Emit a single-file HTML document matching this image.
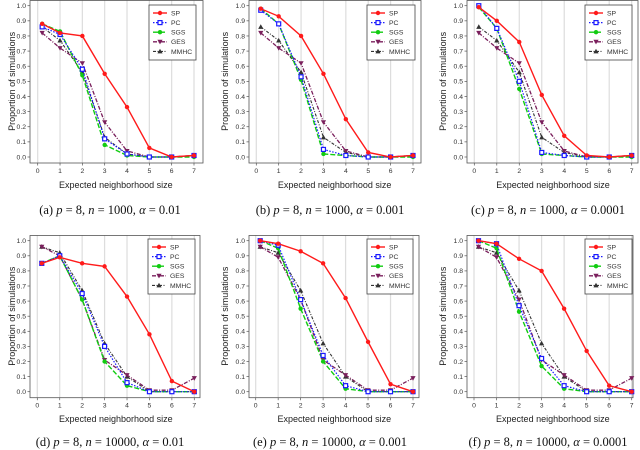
<!DOCTYPE html>
<html><head><meta charset="utf-8"><style>
body{margin:0;background:#fff;}
svg{display:block;font-family:"Liberation Sans",sans-serif;}
.cap{font-family:"Liberation Serif",serif;font-size:12.5px;}
</style></head><body>
<svg id="fig" width="640" height="450" viewBox="0 0 640 450" xmlns="http://www.w3.org/2000/svg"></svg>
<script>
const xVals=[0.2,1,2,3,4,5,6,7];
const xTicks=[0,1,2,3,4,5,6,7];
const yTicks=[0,0.1,0.2,0.3,0.4,0.5,0.6,0.7,0.8,0.9,1.0];
const seriesNames=["SP","PC","SGS","GES","MMHC"];
const capLabels=["(a)","(b)","(c)","(d)","(e)","(f)"];
const capN=["1000","1000","1000","10000","10000","10000"];
const capAlpha=["0.01","0.001","0.0001","0.01","0.001","0.0001"];
const spA=[.88,.82,.80,.55,.33,.06,0,.01], pcA=[.86,.81,.58,.12,.02,0,0,.01], sgsA=[.88,.83,.54,.08,.01,0,0,0], gesA=[.82,.72,.62,.23,.04,0,0,.01], mmA=[.86,.77,.56,.13,.02,0,0,.01];
const spB=[.98,.93,.80,.55,.25,.03,0,.01], pcB=[.97,.88,.53,.05,.01,0,0,.01], sgsB=[.98,.88,.51,.02,.01,0,0,0], gesB=[.82,.72,.62,.23,.04,0,0,.01], mmB=[.86,.77,.56,.13,.03,0,0,.01];
const spC=[.99,.90,.76,.41,.14,.01,0,.01], pcC=[1.0,.85,.50,.03,.01,0,0,.01], sgsC=[.99,.85,.45,.02,.01,0,0,0], gesC=[.82,.72,.62,.23,.04,0,0,.01], mmC=[.86,.77,.56,.13,.03,0,0,.01];
const spD=[.85,.89,.85,.83,.63,.38,.07,0], pcD=[.85,.90,.65,.30,.06,0,0,0], sgsD=[.85,.90,.61,.20,.04,0,0,0], gesD=[.96,.90,.61,.21,.11,.01,.01,.09], mmD=[.96,.92,.67,.32,.10,0,0,0];
const spE=[1.0,.98,.93,.85,.62,.33,.05,0], pcE=[1.0,.97,.61,.24,.04,0,0,0], sgsE=[1.0,.95,.55,.20,.02,0,0,0], gesE=[.96,.89,.61,.21,.11,.01,.01,.09], mmE=[.96,.92,.67,.32,.10,0,0,0];
const spF=[1.0,.98,.88,.80,.55,.27,.04,0], pcF=[1.0,.98,.57,.22,.04,0,0,0], sgsF=[1.0,.95,.53,.17,.02,0,0,0], gesF=[.96,.89,.61,.21,.11,.01,.01,.09], mmF=[.96,.92,.67,.32,.10,0,0,0];
const panelData=[[spA,pcA,sgsA,gesA,mmA],[spB,pcB,sgsB,gesB,mmB],[spC,pcC,sgsC,gesC,mmC],[spD,pcD,sgsD,gesD,mmD],[spE,pcE,sgsE,gesE,mmE],[spF,pcF,sgsF,gesF,mmF]];

const styles=[{c:"#ff1a1a",d:"",m:"circle",w:1.4},{c:"#1a1aff",d:"1.5,1.5",m:"square",w:1.2},{c:"#11cc11",d:"5,2",m:"circle",w:1.4},{c:"#7a1f5c",d:"4,1.5,1,1.5",m:"down",w:1.3},{c:"#333",d:"3,1.5,1,1.5",m:"up",w:1.1}];
const layout=[
 {x0:37.7,x7:194,y1:5.7,y0:157,bl:30,br:203,bt:0,bb:163,lx:149,ly:5,lw:47,yl:12,xl:185,cy:214,cx:110},
 {x0:256.3,x7:413,y1:5.7,y0:157,bl:249,br:421,bt:0,bb:163,lx:367,ly:5,lw:48,yl:225,xl:185,cy:214,cx:330},
 {x0:474.3,x7:631.7,y1:5.7,y0:157,bl:467,br:638,bt:0,bb:163,lx:585,ly:5,lw:47,yl:443,xl:185,cy:214,cx:548},
 {x0:37.3,x7:194.3,y1:240.7,y0:391.7,bl:30,br:200,bt:235,bb:397.7,lx:148,ly:239,lw:47,yl:12,xl:419,cy:446,cx:110},
 {x0:255.7,x7:413,y1:240.7,y0:391.7,bl:249,br:419,bt:235,bb:397.7,lx:367,ly:239,lw:46,yl:225,xl:419,cy:446,cx:330},
 {x0:474,x7:631.7,y1:240.7,y0:391.7,bl:467,br:633,bt:235,bb:397.7,lx:585,ly:239,lw:47,yl:443,xl:419,cy:446,cx:548}];
const NS="http://www.w3.org/2000/svg";
const svg=document.getElementById('fig');
function mk(tag,attrs,parent){const e=document.createElementNS(NS,tag);for(const k in attrs)e.setAttribute(k,attrs[k]);(parent||svg).appendChild(e);return e;}
function marker(g,s,x,y){
 let e;
 if(s.m==="circle")e=mk('circle',{cx:x,cy:y,r:2.2,fill:s.c},g);
 else if(s.m==="square")e=mk('rect',{x:x-2,y:y-2,width:4,height:4,fill:"#fff",stroke:s.c,'stroke-width':1.2},g);
 else if(s.m==="down")e=mk('polygon',{points:`${x-2.6},${y-2} ${x+2.6},${y-2} ${x},${y+2.6}`,fill:s.c},g);
 else e=mk('polygon',{points:`${x-2.6},${y+2} ${x+2.6},${y+2} ${x},${y-2.6}`,fill:s.c},g);
 return e;
}
layout.forEach((L,pi)=>{
 const g=mk('g',{});
 
 
 const sx=v=>L.x0+(L.x7-L.x0)*v/7, sy=v=>L.y0-(L.y0-L.y1)*v;
 xTicks.forEach(t=>{
  const gl=mk('line',{x1:sx(t),x2:sx(t),y1:L.bt,y2:L.bb,stroke:"#ddd",'stroke-width':1.2},g);
  
  
 });
 const box=mk('rect',{x:L.bl,y:L.bt+0.5,width:L.br-L.bl,height:L.bb-L.bt-0.5,fill:"none",stroke:"#555",'stroke-width':0.8},g);
 
 
 xTicks.forEach(t=>{
  mk('line',{x1:sx(t),x2:sx(t),y1:L.bb,y2:L.bb+2.5,stroke:"#555",'stroke-width':0.7},g);
  const tx=mk('text',{x:sx(t),y:L.bb+10,'font-size':6.8,'text-anchor':'middle',fill:"#333"},g);
  tx.textContent=t;
  
  
 });
 yTicks.forEach(t=>{
  mk('line',{x1:L.bl-2.5,x2:L.bl,y1:sy(t),y2:sy(t),stroke:"#555",'stroke-width':0.7},g);
  const tx=mk('text',{x:L.bl-4,y:sy(t)+2.3,'font-size':6.8,'text-anchor':'end',fill:"#333"},g);
  tx.textContent=t.toFixed(1);
  
  
 });
 const xl=mk('text',{x:(L.x0+L.x7)/2,y:L.xl+3,'font-size':9,'text-anchor':'middle',fill:"#222"},g);
 xl.textContent="Expected neighborhood size";
 
 
 const ym=(L.y0+L.y1)/2;
 const yl=mk('text',{x:L.yl,y:ym,'font-size':9,'text-anchor':'middle',fill:"#222",transform:`rotate(-90 ${L.yl} ${ym})`,dy:3},g);
 yl.textContent="Proportion of simulations";
 
 
 const cap=mk('text',{x:L.cx,y:L.cy,class:'cap','text-anchor':'middle',fill:"#111"},g);
 
 
 const parts=[[capLabels[pi]+" ",false],["p",true],[" = 8, ",false],["n",true],[" = "+capN[pi]+", ",false],["α",true],[" = "+capAlpha[pi],false]];
 parts.forEach(([t,it])=>{const ts=mk('tspan',it?{'font-style':'italic'}:{},cap);ts.textContent=t;});
 for(let si=seriesNames.length-1;si>=0;si--){
  const s=styles[si], vals=panelData[pi][si];
  const sg=mk('g',{},g);
  
  
  const pts=vals.map((v,i)=>sx(xVals[i])+","+sy(v)).join(" ");
  mk('polyline',{points:pts,fill:"none",stroke:s.c,'stroke-width':s.w,'stroke-dasharray':s.d},sg);
  vals.forEach((v,i)=>{const m=marker(sg,s,sx(xVals[i]),sy(v));
   
   });
 }
 const lg=mk('g',{},g);
 
 
 mk('rect',{x:L.lx,y:L.ly,width:L.lw,height:55,fill:"#fff",stroke:"#444",'stroke-width':0.8},lg);
 seriesNames.forEach((n,si)=>{
  const s=styles[si], yy=L.ly+8+si*9.6;
  const e=mk('g',{},lg);
  
  
  mk('line',{x1:L.lx+4,x2:L.lx+18,y1:yy,y2:yy,stroke:s.c,'stroke-width':s.w,'stroke-dasharray':s.d},e);
  marker(e,s,L.lx+11,yy);
  const t=mk('text',{x:L.lx+22,y:yy+2.4,'font-size':6.8,fill:"#333"},e);
  t.textContent=n;
 });
});
</script>
</body></html>
